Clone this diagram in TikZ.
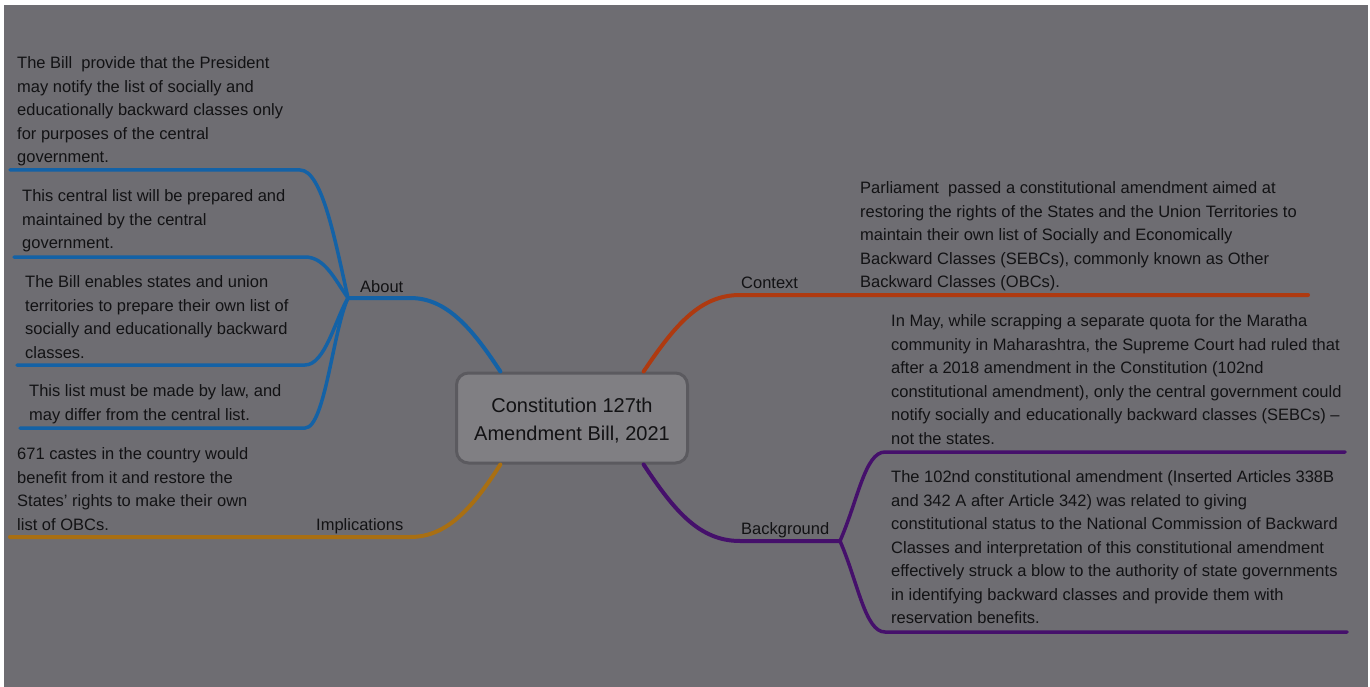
\documentclass[tikz,border=0pt]{standalone}
\usepackage{fontspec}
\setmainfont{Liberation Sans}
\usetikzlibrary{positioning}
\definecolor{bggray}{HTML}{6E6D72}
\definecolor{inkblack}{HTML}{121214}
\definecolor{rootfill}{HTML}{807F83}
\definecolor{rootline}{HTML}{5B5A5F}
\definecolor{aboutblue}{HTML}{1462A6}
\definecolor{implorange}{HTML}{A96F12}
\definecolor{ctxred}{HTML}{AE3A10}
\definecolor{bgpurple}{HTML}{45106B}

\begin{document}
\begin{tikzpicture}[
x=1pt,y=-1pt,
note/.style={
anchor=north west,
inner sep=0pt,
align=left,
text=inkblack,
font=\fontsize{16.5}{23.5}\selectfont
},
branchname/.style={
anchor=base west,
inner sep=0pt,
text=inkblack,
font=\fontsize{16.5}{20}\selectfont
},
rootbox/.style={
draw=rootline,
line width=3pt,
fill=rootfill,
rounded corners=12pt,
minimum width=231pt,
minimum height=90pt,
align=center,
text=inkblack,
font=\fontsize{20}{28}\selectfont
},
branch/.style={line width=4pt,line cap=round},
twig/.style={line width=3.5pt,line cap=round}
]

\useasboundingbox (0,0) rectangle (1370,687);
\fill[white] (0,0) rectangle (1370,687);
\fill[bggray] (4,5) rectangle (1368,687);

\node[rootbox] (root) at (572,418) {\rule{0pt}{20.5pt}Constitution 127th\\Amendment Bill, 2021};

\coordinate (aboutHub) at (348,298);
\coordinate (bgHub) at (840,541);
\coordinate (implEnd) at (10,537);
\coordinate (ctxEnd) at (1308,295);
\coordinate (about1End) at (10,170);
\coordinate (about2End) at (14,257);
\coordinate (about3End) at (17,365);
\coordinate (about4End) at (20,428);
\coordinate (bg1End) at (1345,452);
\coordinate (bg2End) at (1347,632);

\node[branchname] (about) at (360,292) {About};
\node[branchname] (impl) at (316,530) {Implications};
\node[branchname] (context) at (741,288) {Context};
\node[branchname] (background) at (741,534) {Background};

\node[note] (about1) at (17,52) {\strut The Bill\ \ provide that the President\\may notify the list of socially and\\educationally backward classes only\\for purposes of the central\\government.};
\node[note] (about2) at (22,185) {\strut This central list will be prepared and\\maintained by the central\\government.};
\node[note] (about3) at (25,271) {\strut The Bill enables states and union\\territories to prepare their own list of\\socially and educationally backward\\classes.};
\node[note] (about4) at (29,380) {\strut This list must be made by law, and\\may differ from the central list.};

\node[note] (implnote) at (17,443) {\strut 671 castes in the country would\\benefit from it and restore the\\States’ rights to make their own\\list of OBCs.};

\node[note] (ctxnote) at (860,177) {\strut Parliament\ \ passed a constitutional amendment aimed at\\restoring the rights of the States and the Union Territories to\\maintain their own list of Socially and Economically\\Backward Classes (SEBCs), commonly known as Other\\Backward Classes (OBCs).};

\node[note] (bgnote1) at (891,310) {\strut In May, while scrapping a separate quota for the Maratha\\community in Maharashtra, the Supreme Court had ruled that\\after a 2018 amendment in the Constitution (102nd\\constitutional amendment), only the central government could\\notify socially and educationally backward classes (SEBCs) –\\not the states.};
\node[note] (bgnote2) at (891,466) {\strut The 102nd constitutional amendment (Inserted Articles 338B\\and 342 A after Article 342) was related to giving\\constitutional status to the National Commission of Backward\\Classes and interpretation of this constitutional amendment\\effectively struck a blow to the authority of state governments\\in identifying backward classes and provide them with\\reservation benefits.};

\draw[branch,aboutblue] (root.147) .. controls (470,325) and (445,298) .. (410,298) -- (aboutHub);
\draw[twig,aboutblue] (aboutHub) .. controls (335,240) and (322,170) .. (300,170) -- (about1End);
\draw[twig,aboutblue] (aboutHub) .. controls (335,280) and (325,257) .. (305,257) -- (about2End);
\draw[twig,aboutblue] (aboutHub) .. controls (335,320) and (325,365) .. (305,365) -- (about3End);
\draw[twig,aboutblue] (aboutHub) .. controls (333,330) and (325,428) .. (305,428) -- (about4End);

\draw[branch,implorange] (root.213) .. controls (470,512) and (445,537) .. (410,537) -- (implEnd);

\draw[branch,ctxred] (root.33) .. controls (675,325) and (700,295) .. (740,295) -- (ctxEnd);

\draw[branch,bgpurple] (root.-33) .. controls (675,512) and (700,541) .. (740,541) -- (bgHub);
\draw[twig,bgpurple] (bgHub) .. controls (858,500) and (865,452) .. (885,452) -- (bg1End);
\draw[twig,bgpurple] (bgHub) .. controls (858,582) and (865,632) .. (885,632) -- (bg2End);

\end{tikzpicture}
\end{document}
